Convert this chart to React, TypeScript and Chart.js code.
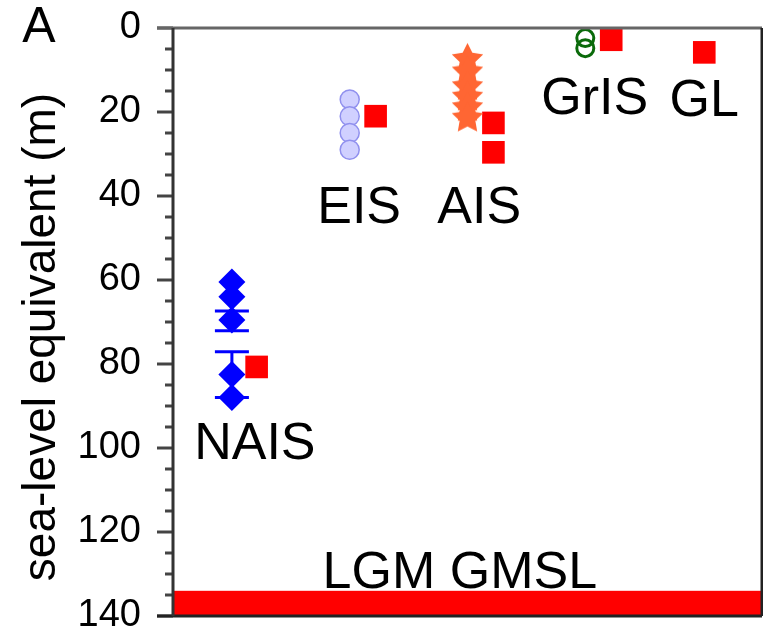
import React, { useEffect, useRef } from 'react';
import { Chart, registerables } from 'chart.js';
Chart.register(...registerables);

// ---- data ----
const catX = [1, 3, 5, 7, 9];
const naisY = [60.5, 64, 69.5, 82.5, 88];
const naisErrMid = [69.5, 82.5];
const naisErrLow = [67.4, 77.1];
const naisErrHigh = [72.1, 88];
const eisY = [17, 21, 25, 29];
const aisY = [7, 10, 13.5, 16, 18.5, 21];
const grisY = [2.4, 4.8];
const redX = [1.42, 3.44, 5.44, 5.44, 7.44, 9.02];
const redY = [80.7, 21, 22.6, 29.6, 2.8, 5.8];
const catLabels = ['NAIS', 'EIS', 'AIS', 'GrIS', 'GL', 'LGM GMSL'];
const catLabelX = [1.39, 3.16, 5.2, 7.16, 9.02, 4.87];
const catLabelY = [99.3, 42.9, 42.9, 17.1, 17.6, 130];
const lgmRange = [134, 140];
const yMin = 0;
const yMax = 140;
const yStep = 20;
const yMinorStep = 5;
const yTitle = 'sea-level equivalent (m)';
const panelLabel = 'A';

const FONT = "'Liberation Sans', Arial, sans-serif";

function makeStar(size: number, color: string) {
  const c = document.createElement('canvas');
  c.width = size;
  c.height = size;
  const ctx = c.getContext('2d')!;
  const cx = size / 2;
  const cy = size / 2 + 2;
  const R = size / 2;
  const r = R * 0.5;
  ctx.beginPath();
  for (let i = 0; i < 10; i++) {
    const a = -Math.PI / 2 + (i * Math.PI) / 5;
    const rad = i % 2 === 0 ? R : r;
    const x = cx + rad * Math.cos(a);
    const y = cy + rad * Math.sin(a);
    if (i === 0) ctx.moveTo(x, y);
    else ctx.lineTo(x, y);
  }
  ctx.closePath();
  ctx.fillStyle = color;
  ctx.fill();
  return c;
}

export default function App() {
  const ref = useRef<HTMLCanvasElement | null>(null);
  useEffect(() => {
    document.body.style.margin = '0';
    const star = makeStar(33, '#ff6633');
    const decor = {
      id: 'decor',
      beforeDatasetsDraw(chart: any) {
        const { ctx, chartArea, scales } = chart;
        const y = scales.y;
        const t = y.getPixelForValue(lgmRange[0]);
        const b = y.getPixelForValue(lgmRange[1]);
        ctx.save();
        ctx.fillStyle = '#ff0000';
        ctx.fillRect(chartArea.left, t, chartArea.right - chartArea.left, b - t);
        ctx.restore();
      },
      afterDatasetsDraw(chart: any) {
        const { ctx, chartArea, scales } = chart;
        const x = scales.x;
        const y = scales.y;
        ctx.save();
        // error bars
        ctx.strokeStyle = '#0000ff';
        ctx.lineWidth = 3;
        for (let i = 0; i < naisErrMid.length; i++) {
          const px = x.getPixelForValue(catX[0]);
          const lo = y.getPixelForValue(naisErrLow[i]);
          const hi = y.getPixelForValue(naisErrHigh[i]);
          ctx.beginPath();
          ctx.moveTo(px, lo);
          ctx.lineTo(px, hi);
          ctx.moveTo(px - 17, lo);
          ctx.lineTo(px + 17, lo);
          ctx.moveTo(px - 17, hi);
          ctx.lineTo(px + 17, hi);
          ctx.stroke();
        }
        // category labels
        ctx.fillStyle = '#000';
        ctx.font = `52px ${FONT}`;
        ctx.textAlign = 'center';
        ctx.textBaseline = 'middle';
        for (let i = 0; i < catLabels.length; i++) {
          ctx.fillText(catLabels[i], x.getPixelForValue(catLabelX[i]), y.getPixelForValue(catLabelY[i]));
        }
        // axis frame
        const L = chartArea.left;
        const R = chartArea.right;
        const T = y.getPixelForValue(yMin);
        const B = y.getPixelForValue(yMax);
        ctx.lineCap = 'butt';
        ctx.strokeStyle = '#444';
        ctx.lineWidth = 3;
        for (let v = yMin; v <= yMax; v += yMinorStep) {
          const py = y.getPixelForValue(v);
          const len = v % yStep === 0 ? 16 : 8;
          ctx.beginPath();
          ctx.moveTo(L - len, py);
          ctx.lineTo(L, py);
          ctx.stroke();
        }
        ctx.strokeStyle = '#666';
        ctx.beginPath();
        ctx.moveTo(L - 16, T);
        ctx.lineTo(R, T);
        ctx.stroke();
        ctx.strokeStyle = '#222';
        ctx.beginPath();
        ctx.moveTo(L - 16, B);
        ctx.lineTo(R, B);
        ctx.moveTo(R, T);
        ctx.lineTo(R, B);
        ctx.stroke();
        ctx.strokeStyle = '#333';
        ctx.beginPath();
        ctx.moveTo(L, T);
        ctx.lineTo(L, B);
        ctx.stroke();
        // y title
        ctx.fillStyle = '#000';
        ctx.font = `46px ${FONT}`;
        ctx.translate(42, 337);
        ctx.rotate(-Math.PI / 2);
        ctx.fillText(yTitle, 0, 0);
        ctx.setTransform(1, 0, 0, 1, 0, 0);
        ctx.font = `50px ${FONT}`;
        ctx.fillText(panelLabel, 39, 28);
        ctx.restore();
      },
    };
    const chart = new Chart(ref.current!, {
      type: 'scatter',
      data: {
        datasets: [
          {
            data: naisY.map((v) => ({ x: catX[0], y: v })),
            pointStyle: 'rectRot',
            pointRadius: 13.5,
            backgroundColor: '#0000ff',
            borderColor: '#0000ff',
            borderWidth: 0,
          },
          {
            data: eisY.map((v) => ({ x: catX[1], y: v })),
            pointStyle: 'circle',
            pointRadius: 9.5,
            backgroundColor: '#d0d0ff',
            borderColor: '#9090ee',
            borderWidth: 1.5,
          },
          {
            data: aisY.map((v) => ({ x: catX[2], y: v })),
            pointStyle: star,
            pointRadius: 16,
            backgroundColor: '#ff6633',
            borderColor: '#ff6633',
          },
          {
            data: grisY.map((v) => ({ x: catX[3], y: v })),
            pointStyle: 'circle',
            pointRadius: 8.5,
            backgroundColor: 'rgba(255,255,255,0)',
            borderColor: '#0a6a0a',
            borderWidth: 3,
          },
          {
            data: redY.map((v, i) => ({ x: redX[i], y: v })),
            pointStyle: 'rect',
            pointRadius: 16,
            backgroundColor: '#ff0000',
            borderColor: '#ff0000',
            borderWidth: 0,
          },
        ],
      },
      options: {
        animation: false,
        responsive: false,
        events: [],
        layout: { autoPadding: false, padding: { top: 28, bottom: 19, left: 0, right: 1 } },
        plugins: { legend: { display: false }, tooltip: { enabled: false } },
        scales: {
          x: { type: 'linear', min: 0, max: 10, display: false },
          y: {
            type: 'linear',
            reverse: true,
            min: yMin,
            max: yMax,
            afterFit: (s: any) => {
              s.width = 173;
            },
            grid: {
              display: true,
              drawOnChartArea: false,
              drawTicks: true,
              tickLength: 32,
              color: 'rgba(0,0,0,0)',
            },
            border: { display: false },
            ticks: {
              stepSize: yStep,
              padding: 0,
              color: '#000',
              font: { family: FONT, size: 38, lineHeight: 1 },
            },
          },
        },
      },
      plugins: [decor],
    } as any);
    return () => chart.destroy();
  }, []);
  return (
    <div style={{ width: 763, height: 635 }}>
      <canvas ref={ref} width={763} height={635} />
    </div>
  );
}
